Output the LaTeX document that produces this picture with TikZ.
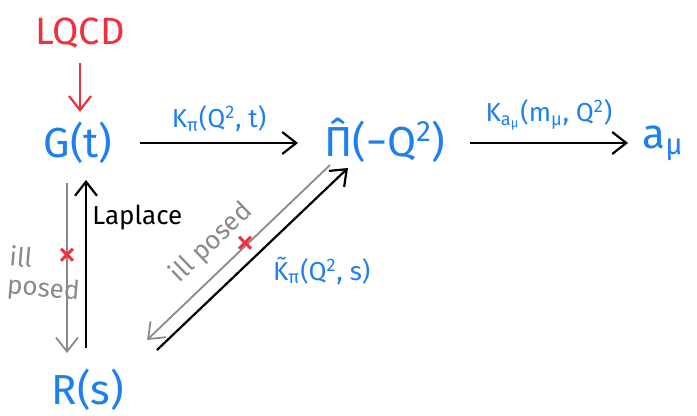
\documentclass[tikz,border=0pt]{standalone}
\usepackage{fontspec}
\setmainfont{Fira Sans}
\usepackage{tikz}
\usetikzlibrary{arrows.meta,positioning}
\definecolor{ink}{HTML}{1E80F0}
\definecolor{rust}{HTML}{F0303C}
\definecolor{pencil}{HTML}{8A8A8A}
\tikzset{
  qty/.style={text=ink, font=\fontsize{21}{24}\selectfont, inner sep=1pt},
  kern/.style={text=ink, font=\fontsize{13}{15}\selectfont, inner sep=1pt},
  note/.style={font=\fontsize{13}{14}\selectfont, inner sep=1pt},
  flow/.style={-{Straight Barb[length=7pt,width=11pt]}, draw=black, line width=1.1pt},
  badflow/.style={-{Straight Barb[length=7pt,width=11pt]}, draw=pencil, line width=0.9pt},
  srcflow/.style={-{Straight Barb[length=7pt,width=11pt]}, draw=rust, line width=1.1pt},
  cross/.style={text=rust, font=\fontsize{20}{20}\selectfont, inner sep=0pt}
}
\begin{document}
\begin{tikzpicture}[x=0.5pt,y=-0.5pt]
 \useasboundingbox (0,0) rectangle (697,416);
 \node[text=rust, font=\fontsize{19}{22}\selectfont] (lqcd) at (80,33) {LQCD};
 \node[qty] (g) at (78,143) {G(t)};
 \node[qty] (pi) at (385,140) {\^{Π}(−Q\textsuperscript{2})};
 \node[qty] (amu) at (663,143) {a\textsubscript{μ}};
 \node[qty] (r) at (88,390) {R(s)};

 \coordinate (gd) at (67,183); \coordinate (rd) at (67,353);
 \coordinate (ru) at (86,348); \coordinate (gu) at (86,180);
 \coordinate (rr) at (157,350); \coordinate (pl) at (348,168);
 \coordinate (pg) at (330,165); \coordinate (rg) at (147,340);

 \draw[srcflow, shorten <=4pt, shorten >=4pt] (lqcd.south) -- (lqcd.south |- g.north);
 \draw[flow] (140,143) -- node[kern, above=4pt]{K\textsubscript{π}(Q\textsuperscript{2}, t)} (298,143);
 \draw[flow] (470,143) -- node[kern, above=5pt]{K\textsubscript{a\textsubscript{μ}}(m\textsubscript{μ}, Q\textsuperscript{2})} (628,143);

 \draw[badflow] (gd) -- node[cross, pos=0.44]{×} (rd);
 \draw[flow] (ru) -- (gu);
 \node[note, anchor=west] (lap) at (90,218) {Laplace};
 \node[note, text=pencil, align=left, rotate=-5, anchor=west] (ill1) at (6,272) {ill\\posed};

 \draw[flow] (rr) -- node[kern, below right=2pt and 4pt, pos=0.55]{\~{K}\textsubscript{π}(Q\textsuperscript{2}, s)} (pl);
 \draw[badflow] (pg) -- node[cross, pos=0.46]{×} node[note, text=pencil, sloped, above=5pt, pos=0.55]{ill posed} (rg);
\end{tikzpicture}
\end{document}
